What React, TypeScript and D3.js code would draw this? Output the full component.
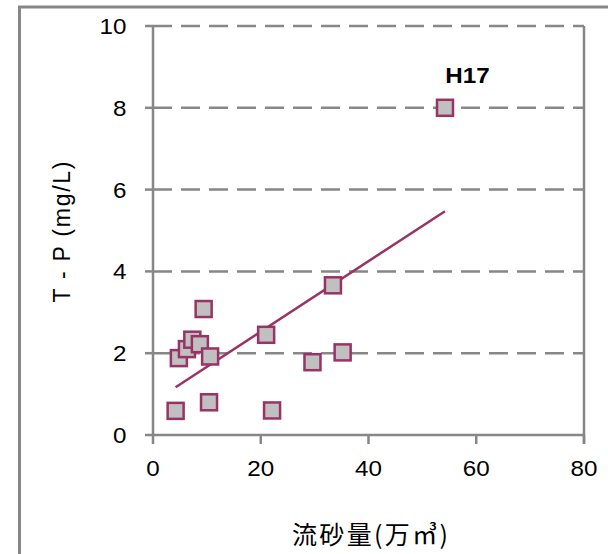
import React from "react";
import * as d3 from "d3";

const flowSediment: number[] = [4.2, 4.8, 6.3, 7.3, 8.7, 10.6, 9.4, 10.4, 22.1, 21.0, 29.6, 35.2, 33.4, 54.2];
const totalP: number[] = [0.59, 1.88, 2.1, 2.33, 2.22, 1.92, 3.08, 0.8, 0.6, 2.45, 1.78, 2.02, 3.66, 8.0];
const pointLabels: string[] = ["", "", "", "", "", "", "", "", "", "", "", "", "", "H17"];
const xTicks: number[] = [0, 20, 40, 60, 80];
const yTicks: number[] = [0, 2, 4, 6, 8, 10];

const W = 608, H = 554;
const left = 153, right = 584, top = 26, bottom = 435;
const GRAY = "#878787";
const MAROON = "#993366";

export default function App() {
  const x = d3.scaleLinear().domain([0, 80]).range([left, right]);
  const y = d3.scaleLinear().domain([0, 10]).range([bottom, top]);

  const n = flowSediment.length;
  const mx = d3.mean(flowSediment)!;
  const my = d3.mean(totalP)!;
  let sxy = 0, sxx = 0;
  for (let i = 0; i < n; i++) {
    sxy += (flowSediment[i] - mx) * (totalP[i] - my);
    sxx += (flowSediment[i] - mx) ** 2;
  }
  const slope = sxy / sxx;
  const intercept = my - slope * mx;
  const [x0, x1] = d3.extent(flowSediment) as [number, number];
  const line = d3.line<number>().x((d) => x(d)).y((d) => y(intercept + slope * d));

  const font = "'Liberation Sans', Arial, 'Noto Sans CJK JP', sans-serif";
  const fs = 22;
  const sz = 16;

  return (
    <svg width={W} height={H} style={{ position: "absolute", left: 0, top: 0, background: "#fff" }} fontFamily={font}>
      {/* outer frame */}
      <path d={`M19.5,${H} L19.5,7 L${W},7`} fill="none" stroke={GRAY} strokeWidth={3} />
      {/* gridlines */}
      {yTicks.filter((t) => t > 0).map((t) => (
        <line key={"g" + t} x1={left} x2={right} y1={y(t)} y2={y(t)} stroke={GRAY} strokeWidth={2.5} strokeDasharray="19,9" />
      ))}
      {/* axes */}
      <line x1={left} x2={left} y1={top} y2={bottom} stroke={GRAY} strokeWidth={2.5} />
      <line x1={right} x2={right} y1={top} y2={bottom + 9} stroke={GRAY} strokeWidth={2.5} />
      <line x1={left} x2={right} y1={bottom} y2={bottom} stroke={GRAY} strokeWidth={2.5} />
      {yTicks.map((t) => (
        <g key={"y" + t}>
          <line x1={left - 8} x2={left} y1={y(t)} y2={y(t)} stroke={GRAY} strokeWidth={2.5} />
          <text transform={`translate(126.5,${y(t)}) scale(1.1,1)`} dy="0.36em" textAnchor="end" fontSize={fs} fill="#000">{t}</text>
        </g>
      ))}
      {xTicks.map((t) => (
        <g key={"x" + t}>
          <line x1={x(t)} x2={x(t)} y1={bottom} y2={bottom + 9} stroke={GRAY} strokeWidth={2.5} />
          <text transform={`translate(${x(t)},468) scale(1.1,1)`} dy="0.36em" textAnchor="middle" fontSize={fs} fill="#000">{t}</text>
        </g>
      ))}
      {/* trend line */}
      <path d={line([x0, x1]) || ""} fill="none" stroke={MAROON} strokeWidth={2.5} />
      {/* points */}
      {flowSediment.map((v, i) => (
        <rect key={"p" + i} x={x(v) - sz / 2} y={y(totalP[i]) - sz / 2} width={sz} height={sz} fill="#c0c0c0" stroke={MAROON} strokeWidth={2.5} />
      ))}
      {flowSediment.map((v, i) =>
        pointLabels[i] ? (
          <text key={"l" + i} transform={`translate(${x(v) + 22.5},${y(totalP[i]) - 32.5}) scale(1.1,1)`} dy="0.36em" textAnchor="middle" fontSize={fs} fontWeight="bold" fill="#000">{pointLabels[i]}</text>
        ) : null
      )}
      {/* axis titles */}
      <text transform="translate(62,232) rotate(-90)" dy="0.36em" textAnchor="middle" fontSize={23} textLength={141} lengthAdjust="spacing" fill="#000">T - P (mg/L)</text>
      <text x={370} y={535} dy="0.36em" textAnchor="middle" fontSize={25} textLength={156} lengthAdjust="spacing" fill="#000" fontFamily="'Noto Sans CJK JP', sans-serif">流砂量(万㎥)</text>
    </svg>
  );
}
